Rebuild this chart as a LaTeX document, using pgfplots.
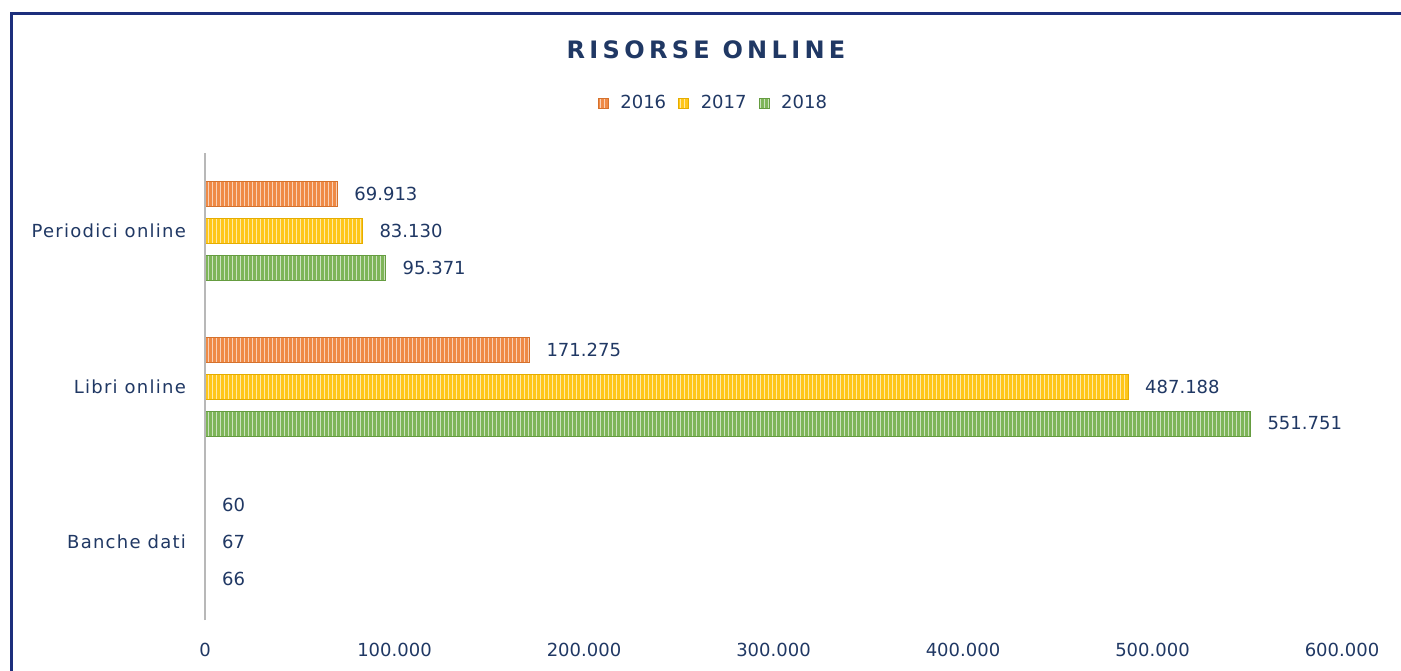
\documentclass[border=0pt]{standalone}
\usepackage{pgfplots}
\pgfplotsset{compat=1.18}
\usepackage{fontspec}
\setmainfont{DejaVu Sans}
\usetikzlibrary{patterns.meta}
\definecolor{c16}{HTML}{ED7D31}
\definecolor{c17}{HTML}{FFC000}
\definecolor{c18}{HTML}{70AD47}
\definecolor{txt}{HTML}{203864}
\definecolor{frame}{HTML}{1C2F7C}
\begin{document}
\begin{tikzpicture}
\useasboundingbox (0pt,0pt) rectangle (700.5pt,-335pt);
\fill[white] (0pt,0pt) rectangle (700.5pt,-335pt);
\draw[frame, line width=1.5pt] (5.75pt,-340pt) -- (5.75pt,-6.75pt) -- (710pt,-6.75pt);
\node[txt, font=\fontsize{12}{15}\selectfont\bfseries\addfontfeatures{LetterSpace=18}] at (353pt,-25pt) {RISORSE ONLINE};
\begin{axis}[
  at={(102.5pt,-310pt)}, anchor=south west,
  scale only axis, width=568.5pt, height=233.5pt,
  xbar, bar width=12.5pt, axis on top,
  xmin=0, xmax=600000, ymin=-0.5, ymax=2.5,
  ytick={0,1,2}, yticklabels={Banche dati,Libri online,Periodici online},
  xtick={0,100000,200000,300000,400000,500000,600000},
  scaled x ticks=false,
  /pgf/number format/assume math mode=true,
  /pgf/number format/.cd, fixed, precision=0, 1000 sep={.}, min exponent for 1000 sep=4,
  /pgfplots/.cd,
  axis x line=bottom, axis y line=left,
  x axis line style={draw=none},
  y axis line style={draw=black!28, line width=1.3pt, -},
  major tick length=0pt,
  tick label style={font=\fontsize{9}{11}\selectfont, text=txt},
  xticklabel style={yshift=-8pt},
  yticklabel style={xshift=-6pt, font=\fontsize{9}{11}\selectfont\addfontfeatures{LetterSpace=7}},
  nodes near coords,
  every node near coord/.append style={font=\fontsize{9}{11}\selectfont, text=txt, anchor=west, xshift=5pt},
  legend style={at={(0.448,1.107)}, anchor=center, draw=none, legend columns=-1, font=\fontsize{9}{11}\selectfont, text=txt, column sep=4pt},
  legend image code/.code={\draw[#1, bar shift=0pt] (0pt,-2.5pt) rectangle (5pt,2.5pt);},
]
\addplot[bar shift=18.5pt, draw=c16!90!black, line width=0.3pt, fill=c16!90!white, postaction={pattern={Lines[angle=90,distance=2pt,line width=0.5pt]}, pattern color=white!65!c16}] coordinates {(60,0) (171275,1) (69913,2)};
\addplot[bar shift=0pt, draw=c17!90!black, line width=0.3pt, fill=c17!90!white, postaction={pattern={Lines[angle=90,distance=2pt,line width=0.5pt]}, pattern color=white!65!c17}] coordinates {(67,0) (487188,1) (83130,2)};
\addplot[bar shift=-18.5pt, draw=c18!90!black, line width=0.3pt, fill=c18!90!white, postaction={pattern={Lines[angle=90,distance=2pt,line width=0.5pt]}, pattern color=white!65!c18}] coordinates {(66,0) (551751,1) (95371,2)};
\legend{2016,2017,2018}
\end{axis}
\end{tikzpicture}
\end{document}
